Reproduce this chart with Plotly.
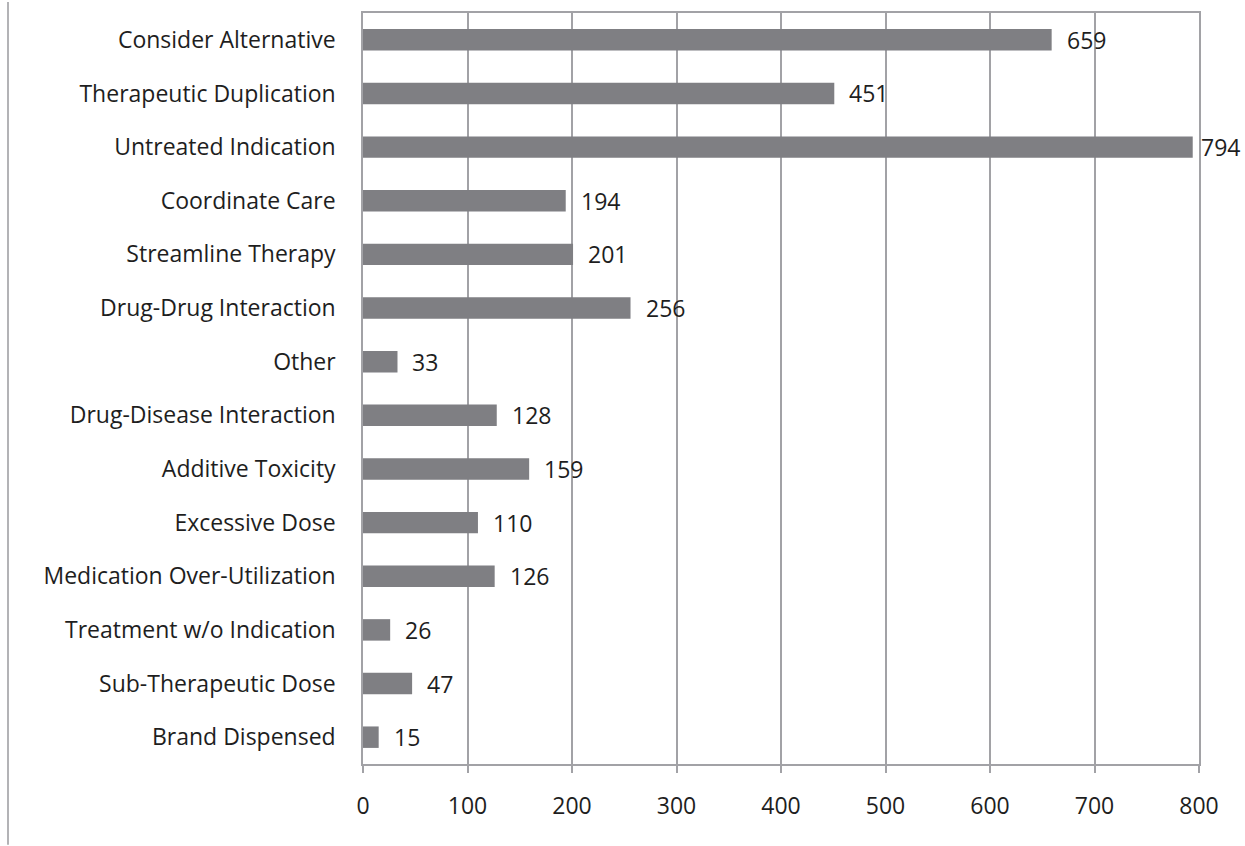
import plotly.graph_objects as go

categories = [
    "Consider Alternative",
    "Therapeutic Duplication",
    "Untreated Indication",
    "Coordinate Care",
    "Streamline Therapy",
    "Drug-Drug Interaction",
    "Other",
    "Drug-Disease Interaction",
    "Additive Toxicity",
    "Excessive Dose",
    "Medication Over-Utilization",
    "Treatment w/o Indication",
    "Sub-Therapeutic Dose",
    "Brand Dispensed",
]
counts = [659, 451, 794, 194, 201, 256, 33, 128, 159, 110, 126, 26, 47, 15]
x_ticks = [0, 100, 200, 300, 400, 500, 600, 700, 800]

W, H = 1245, 846
L, R, T, B = 363, 46, 11, 82
plot_w = W - L - R
plot_h = H - T - B

FONT = "Open Sans"
FS = 23
TEXT = "#1e1e1e"
GRID = "#a2a2a6"
BAR = "#7f7f83"

fig = go.Figure()
fig.add_trace(go.Bar(
    x=counts,
    y=categories,
    orientation="h",
    marker=dict(color=BAR, line=dict(width=0)),
    hoverinfo="x+y",
))

# value labels to the right of each bar
annotations = []
for cat, val in zip(categories, counts):
    annotations.append(dict(
        x=val, y=cat, xref="x", yref="y",
        text=str(val), showarrow=False,
        xanchor="left", yanchor="middle",
        xshift=6 if val > 750 else 13,
        font=dict(family=FONT, size=FS, color=TEXT),
    ))

# thin vertical rule at the far left of the canvas
shapes = [dict(
    type="line", xref="paper", yref="paper",
    x0=(8 - L) / plot_w, x1=(8 - L) / plot_w,
    y0=-(B - 1) / plot_h, y1=(plot_h + T) / plot_h,
    line=dict(color="#9a9a9e", width=1.5),
)]

fig.update_layout(
    width=W, height=H,
    margin=dict(l=L, r=R, t=T, b=B, pad=0),
    paper_bgcolor="white",
    plot_bgcolor="white",
    showlegend=False,
    bargap=0.6,
    font=dict(family=FONT, size=FS, color=TEXT),
    annotations=annotations,
    shapes=shapes,
    xaxis=dict(
        range=[0, 800],
        tickvals=x_ticks,
        ticktext=[str(v) for v in x_ticks],
        showgrid=True, gridcolor=GRID, gridwidth=1.5,
        showline=True, linecolor=GRID, linewidth=1.5, mirror=True,
        ticks="outside", ticklen=7, tickcolor=GRID, tickwidth=1.5,
        ticklabelstandoff=14,
        zeroline=False,
        tickfont=dict(family=FONT, size=FS, color=TEXT),
        fixedrange=True,
    ),
    yaxis=dict(
        categoryorder="array",
        categoryarray=categories[::-1],
        showgrid=False,
        showline=True, linecolor=GRID, linewidth=1.5, mirror=True,
        ticks="", ticklabelstandoff=21,
        tickfont=dict(family=FONT, size=FS, color=TEXT),
        fixedrange=True,
    ),
)

fig.write_html("out.html")
